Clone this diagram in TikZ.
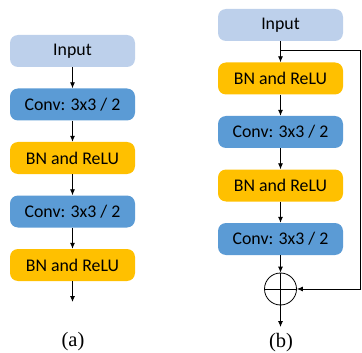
\documentclass[tikz,border=0pt]{standalone}
\usepackage{fontspec}
\setmainfont{Liberation Serif}
\newfontfamily\boxfont{Carlito}
\usetikzlibrary{arrows.meta}

\definecolor{inputblue}{HTML}{BDD0EB}
\definecolor{convblue}{HTML}{5B9BD5}
\definecolor{bnyellow}{HTML}{FFC000}

\newcommand\blockfont{\boxfont\fontsize{17.8pt}{20pt}\selectfont}
\newcommand\capfont{\fontsize{20.5pt}{22pt}\selectfont}

\tikzset{
  x=1pt, y=-1pt,
  block/.style={rounded corners=8pt, minimum width=125pt, minimum height=32pt,
    inner sep=0pt, font=\blockfont, text=black},
  inblock/.style={block, fill=inputblue},
  convblock/.style={block, fill=convblue},
  bnblock/.style={block, fill=bnyellow},
  flow/.style={-{Latex[length=6pt,width=5pt]}, line width=0.8pt, black},
  caption/.style={font=\capfont},
  sumnode/.style={circle, draw, line width=0.8pt, minimum size=32pt, inner sep=0pt,
    path picture={
      \draw[line width=0.8pt] (path picture bounding box.north) -- (path picture bounding box.south);
      \draw[line width=0.8pt] (path picture bounding box.west) -- (path picture bounding box.east);
    }},
}

\begin{document}
\begin{tikzpicture}
\useasboundingbox (0,0) rectangle (362,353);

% (a) plain stack
\node[inblock]   (a0) at (72.5,51)    {Input};
\node[convblock] (a1) at (72.5,104.5) {Conv: 3x3 / 2};
\node[bnblock]   (a2) at (72.5,158)   {BN and ReLU};
\node[convblock] (a3) at (72.5,211.5) {Conv: 3x3 / 2};
\node[bnblock]   (a4) at (72.5,265)   {BN and ReLU};
\coordinate (aout) at (72.5,302);
\draw[flow] (a0) -- (a1);
\draw[flow] (a1) -- (a2);
\draw[flow] (a2) -- (a3);
\draw[flow] (a3) -- (a4);
\draw[flow] (a4) -- (aout);
\node[caption] (capa) at (73,342) {(a)};

% (b) pre-activation residual block
\node[inblock]   (b0) at (280.5,25)    {Input};
\node[bnblock]   (b1) at (280.5,78.5)  {BN and ReLU};
\node[convblock] (b2) at (280.5,132)   {Conv: 3x3 / 2};
\node[bnblock]   (b3) at (280.5,185.5) {BN and ReLU};
\node[convblock] (b4) at (280.5,239)   {Conv: 3x3 / 2};
\node[sumnode]   (sum) at (280.5,289) {};
\coordinate (bout) at (280.5,327);
\coordinate (split) at (280.5,50);
\coordinate (skipTop) at (360.8,50);
\coordinate (skipBot) at (360.8,289);
\draw[flow] (b0) -- (b1);
\draw[flow] (b1) -- (b2);
\draw[flow] (b2) -- (b3);
\draw[flow] (b3) -- (b4);
\draw[flow] (b4) -- (sum);
\draw[flow] (sum) -- (bout);
\draw[flow] (split) -- (skipTop) -- (skipBot) -- (sum.east);
\node[caption] (capb) at (281,343) {(b)};
\end{tikzpicture}
\end{document}
